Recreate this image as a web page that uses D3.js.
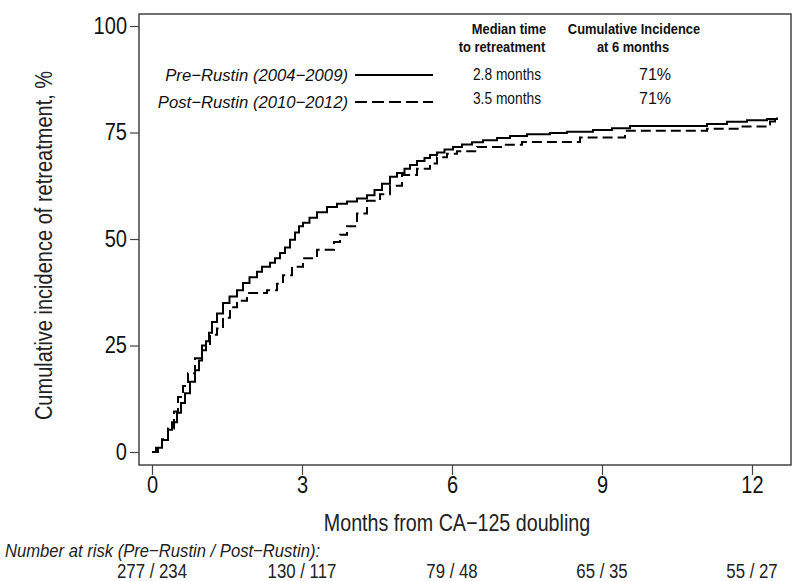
<!DOCTYPE html>
<html>
<head>
<meta charset="utf-8">
<script src="https://cdn.jsdelivr.net/npm/d3@7"></script>
<style>
  html, body { margin: 0; padding: 0; background: #fff; }
  svg { display: block; }
  text { font-family: "Liberation Sans", Arial, sans-serif; }
</style>
</head>
<body>
<svg id="chart" width="800" height="581"></svg>
<script>
// ---- data ----
const preTimes  = [0,0.08,0.2,0.32,0.4,0.5,0.58,0.66,0.76,0.86,0.94,1.0,1.08,1.14,1.2,1.3,1.42,1.55,1.7,1.82,1.95,2.1,2.2,2.36,2.46,2.56,2.66,2.76,2.86,2.94,3.02,3.15,3.3,3.5,3.7,3.9,4.1,4.3,4.45,4.6,4.76,4.9,5.05,5.16,5.3,5.45,5.56,5.7,5.85,6.02,6.2,6.4,6.62,6.9,7.16,7.5,7.96,8.3,8.82,9.2,9.56,11.1,11.5,11.9,12.3,12.5];
const preValues = [0,1,2.8,5.2,7,9.2,11.5,13.8,16.5,19.2,21.5,23.9,26,28,30.5,32.5,35,36.5,38,39.7,41,42.3,43.5,44.4,45.5,46.7,48,49.8,51.5,53,53.8,55,56.3,57.5,58.3,58.8,59.5,60.3,61.5,63,64.6,65.5,66.5,67.4,68.3,69,69.7,70.3,71,71.6,72.2,72.7,73.2,73.7,74.2,74.6,74.9,75.2,75.6,76,76.5,77,77.5,77.9,78.2,78.5];

const postTimes  = [0,0.12,0.2,0.32,0.44,0.52,0.62,0.72,0.86,1.0,1.16,1.3,1.42,1.56,1.7,1.9,2.3,2.5,2.62,2.8,3.02,3.3,3.64,3.76,3.9,4.1,4.3,4.56,4.76,5.0,5.3,5.56,5.7,5.9,6.1,6.5,7.0,7.4,8.56,9.46,11.1,11.76,12.3,12.36,12.46];
const postValues = [0,1.2,3,5.5,9.5,12.9,15.5,18.5,22,25,27.5,29,31.5,34,35.5,37.3,38,39.5,41.5,43.5,45.5,47.5,49.3,51,53,56,59,60.5,62.5,65,66.5,67.7,69.2,70,70.6,71.6,72.1,72.8,73.8,75.4,75.9,76.4,76.9,77.6,78.2];

const xTicks = [0,3,6,9,12];
const yTicks = [0,25,50,75,100];
const atRiskLabels = ["277 / 234","130 / 117","79 / 48","65 / 35","55 / 27"];

const seriesNames = ["Pre\u2212Rustin (2004\u22122009)","Post\u2212Rustin (2010\u22122012)"];
const medianLabels = ["2.8 months","3.5 months"];
const incidenceLabels = ["71%","71%"];

// ---- helpers ----
function condense(sel, f) {
  sel.each(function() {
    const w = this.getComputedTextLength();
    d3.select(this).attr("textLength", w * f).attr("lengthAdjust", "spacingAndGlyphs");
  });
}

// ---- layout ----
const box = {left:139, right:791, top:14, bottom:465};
const svg = d3.select("#chart");

const x = d3.scaleLinear().domain([-0.26, 12.78]).range([box.left, box.right]);
const y = d3.scaleLinear().domain([-3.05, 102.82]).range([box.bottom, box.top]);

// frame
svg.append("rect")
  .attr("x", box.left).attr("y", box.top)
  .attr("width", box.right-box.left).attr("height", box.bottom-box.top)
  .attr("fill","none").attr("stroke","#444").attr("stroke-width",1.5);

// axes
const yAxis = svg.append("g")
  .attr("transform", `translate(${box.left},0)`)
  .call(d3.axisLeft(y).tickValues(yTicks).tickSize(9).tickPadding(3).tickFormat(d3.format("d")));
yAxis.select(".domain").remove();
yAxis.selectAll("line").attr("stroke","#444").attr("stroke-width",1.2);
yAxis.selectAll("text").attr("font-size",23).attr("fill","#111").style("font-family",'"Liberation Sans",Arial,sans-serif');
condense(yAxis.selectAll("text"), 0.87);

const xAxis = svg.append("g")
  .attr("transform", `translate(0,${box.bottom})`)
  .call(d3.axisBottom(x).tickValues(xTicks).tickSize(10).tickPadding(2).tickFormat(d3.format("d")));
xAxis.select(".domain").remove();
xAxis.selectAll("line").attr("stroke","#444").attr("stroke-width",1.2);
xAxis.selectAll("text").attr("font-size",23).attr("fill","#111").style("font-family",'"Liberation Sans",Arial,sans-serif');
condense(xAxis.selectAll("text"), 0.87);

// axis titles
const yTitle = svg.append("text")
  .attr("transform", `translate(52,${(box.top+box.bottom)/2 + 6}) rotate(-90)`)
  .attr("text-anchor","middle").attr("font-size",23).attr("fill","#222")
  .text("Cumulative incidence of retreatment, %");
condense(yTitle, 0.87);

const xTitle = svg.append("text")
  .attr("x", 457).attr("y", 531)
  .attr("text-anchor","middle").attr("font-size",24).attr("fill","#222")
  .text("Months from CA\u2212125 doubling");
condense(xTitle, 0.82);

const riskTitle = svg.append("text")
  .attr("x", 5).attr("y", 557)
  .attr("font-size",19).attr("font-style","italic").attr("fill","#222")
  .text("Number at risk (Pre\u2212Rustin / Post\u2212Rustin):");
condense(riskTitle, 0.875);

const riskNums = svg.append("g").selectAll("text").data(atRiskLabels).join("text")
  .attr("x", (d,i) => x(xTicks[i])).attr("y", 578)
  .attr("text-anchor","middle").attr("font-size",20).attr("fill","#222")
  .text(d => d);
condense(riskNums, 0.84);

// curves
const line = d3.line().x(d => x(d[0])).y(d => y(d[1])).curve(d3.curveStepAfter);
const preData = preTimes.map((t,i) => [t, preValues[i]]);
const postData = postTimes.map((t,i) => [t, postValues[i]]);

svg.append("path").datum(preData).attr("d", line)
  .attr("fill","none").attr("stroke","#000").attr("stroke-width",2);
svg.append("path").datum(postData).attr("d", line)
  .attr("fill","none").attr("stroke","#000").attr("stroke-width",2).attr("stroke-dasharray","10,5");

// legend
const lg = svg.append("g");
const head = [
  ["Median time", 509, 34], ["to retreatment", 502, 52],
  ["Cumulative Incidence", 634, 34], ["at 6 months", 633, 52]
];
head.forEach(h => {
  const t = lg.append("text").attr("x",h[1]).attr("y",h[2]).attr("text-anchor","middle")
    .attr("font-size",15.5).attr("font-weight","bold").attr("fill","#111").text(h[0]);
  condense(t, 0.83);
});

const rowY = [81, 108];
seriesNames.forEach((name,i) => {
  lg.append("text").attr("x",348).attr("y",rowY[i]).attr("text-anchor","end").attr("font-size",16.7).attr("font-style","italic").attr("fill","#111").text(name);
  lg.append("line").attr("x1",355).attr("x2",433).attr("y1",rowY[i]-6).attr("y2",rowY[i]-6)
    .attr("stroke","#000").attr("stroke-width",2).attr("stroke-dasharray", i===1 ? "12,5" : null);
  const m = lg.append("text").attr("x",507).attr("y",rowY[i]-1 - i*3).attr("text-anchor","middle").attr("font-size",16).attr("fill","#111").text(medianLabels[i]);
  condense(m, 0.86);
  lg.append("text").attr("x",655).attr("y",rowY[i]-1 - i*3).attr("text-anchor","middle").attr("font-size",16).attr("fill","#111").text(incidenceLabels[i]);
});
</script>
</body>
</html>
